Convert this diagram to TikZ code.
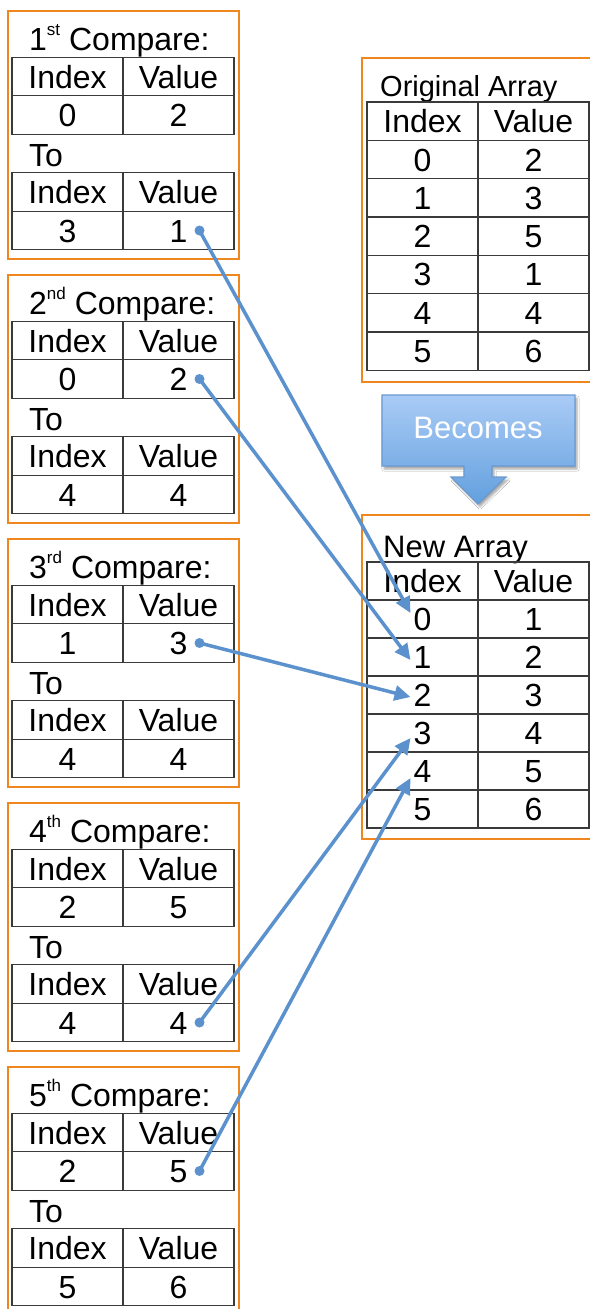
\documentclass[tikz,border=0pt]{standalone}
\usepackage{fontspec}
\setmainfont{Liberation Sans}
\usetikzlibrary{arrows.meta, shadows.blur}
\definecolor{mOrange}{HTML}{F0871E}
\definecolor{mBlue}{HTML}{5B92CE}
\definecolor{mLine}{HTML}{3A3A3A}
\definecolor{mSkyTop}{HTML}{AACBF6}
\definecolor{mSkyBot}{HTML}{62A0DE}
\definecolor{mSkyEdge}{HTML}{6A9AD0}
\newcommand{\ordsfx}[1]{\raisebox{15pt}{\fontsize{17}{17}\selectfont #1}}

\begin{document}
\begin{tikzpicture}[x=1pt, y=-1pt,
  every node/.style={font=\fontsize{32}{36}\selectfont},
  frame/.style={draw=mOrange, line width=2pt},
  cell/.style={draw=mLine, line width=1.3pt, minimum width=111pt,
               minimum height=38.5pt, inner sep=0pt,
               text height=23pt, text depth=0pt},
  lbl/.style={anchor=base west, inner sep=0pt},
  conn/.style={draw=mBlue, line width=3.5pt, -{Triangle[length=16pt, width=15pt]}},
  dot/.style={fill=mBlue},
  callout/.style={draw=mSkyEdge, line width=1.2pt, top color=mSkyTop,
               bottom color=mSkyBot,
               blur shadow={shadow xshift=2pt, shadow yshift=-3pt,
               shadow blur steps=5, shadow opacity=35}},
]
  \fill[white] (0,0) rectangle (589,1309);
  \useasboundingbox (0,0) rectangle (589,1309);

  % Compare boxes
  \foreach \k/\sfx/\ai/\av/\bi/\bv in {1/st/0/2/3/1, 2/nd/0/2/4/4,
      3/rd/1/3/4/4, 4/th/2/5/4/4, 5/th/2/5/5/6}{
    \pgfmathsetmacro\T{11+264*(\k-1)}
    \draw[frame] (8,\T) rectangle (239,\T+248);
    \node[lbl] (c\k-t) at (29,\T+39) {\k\ordsfx{\sfx} Compare:};
    \node[cell] (c\k-a-ih) at (67.5,\T+65.5) {Index};
    \node[cell] (c\k-a-vh) at (178.5,\T+65.5) {Value};
    \node[cell] (c\k-a-i) at (67.5,\T+104) {\ai};
    \node[cell] (c\k-a-v) at (178.5,\T+104) {\av};
    \node[lbl] (c\k-to) at (29,\T+155) {To};
    \node[cell] (c\k-b-ih) at (67.5,\T+181) {Index};
    \node[cell] (c\k-b-vh) at (178.5,\T+181) {Value};
    \node[cell] (c\k-b-i) at (67.5,\T+219.5) {\bi};
    \node[cell] (c\k-b-v) at (178.5,\T+219.5) {\bv};
  }

  % Original array
  \draw[frame] (362,58) rectangle (600,382);
  \node[lbl, font=\fontsize{29}{33}\selectfont] (o-t) at (380,96) {Original Array};
  \node[cell, minimum height=38.3pt] (o-ih) at (422.5,121.2) {Index};
  \node[cell, minimum height=38.3pt] (o-vh) at (533.5,121.2) {Value};
  \foreach \r/\v in {0/2, 1/3, 2/5, 3/1, 4/4, 5/6}{
    \node[cell, minimum height=38.3pt] (o\r-i) at (422.5,159.5+38.3*\r) {\r};
    \node[cell, minimum height=38.3pt] (o\r-v) at (533.5,159.5+38.3*\r) {\v};
  }

  % Becomes
  \path[callout] (382,395) -- (575,395) -- (575,466) -- (492,466) -- (492,477)
    -- (506,477) -- (478,504) -- (451,477) -- (464,477) -- (464,466)
    -- (382,466) -- cycle;
  \node[text=white, font=\fontsize{31}{35}\selectfont] (becomes) at (478,428) {Becomes};

  % New array
  \draw[frame] (362,515) rectangle (600,839);
  \node[lbl, font=\fontsize{31}{35}\selectfont] (n-t) at (383,557) {New Array};
  \node[cell, minimum height=38pt] (n-ih) at (422.5,581) {Index};
  \node[cell, minimum height=38pt] (n-vh) at (533.5,581) {Value};
  \foreach \r/\v in {0/1, 1/2, 2/3, 3/4, 4/5, 5/6}{
    \node[cell, minimum height=38pt] (n\r-i) at (422.5,619+38*\r) {\r};
    \node[cell, minimum height=38pt] (n\r-v) at (533.5,619+38*\r) {\v};
  }

  % Moves into the new array
  \foreach \s/\r/\dy in {c1-b-v/0/6, c2-a-v/1/-3, c3-a-v/2/-2,
      c4-b-v/3/-5, c5-a-v/4/-7}{
    \draw[conn] ([xshift=21pt]\s.center) -- ([xshift=-12pt, yshift=\dy pt]n\r-i.center);
    \fill[dot] ([xshift=21pt]\s.center) circle (5pt);
  }
\end{tikzpicture}
\end{document}
